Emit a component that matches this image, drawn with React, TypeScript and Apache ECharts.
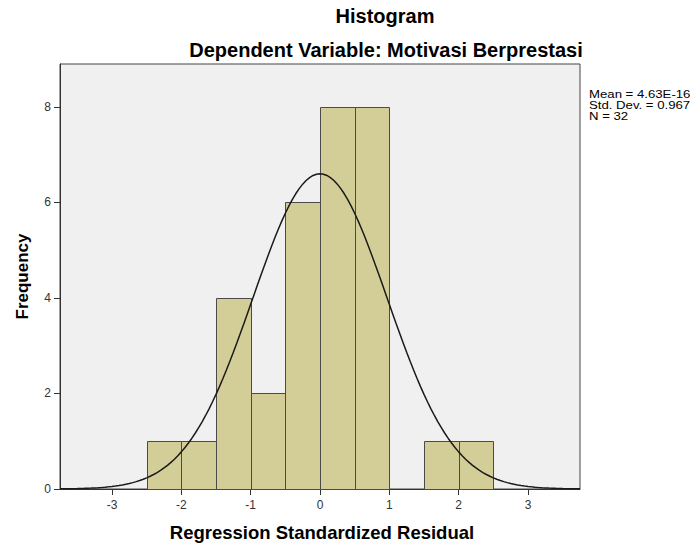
import React, { useEffect, useRef } from "react";
import * as echarts from "echarts";

// Histogram bins (left edges), bin width and frequencies
const BIN_STARTS = [-2.5, -2.0, -1.5, -1.0, -0.5, 0.0, 0.5, 1.0, 1.5, 2.0];
const BIN_WIDTH = 0.5;
const FREQUENCIES = [1, 1, 4, 2, 6, 8, 8, 0, 1, 1];

// Axis ticks
const X_TICKS = [-3, -2, -1, 0, 1, 2, 3];
const Y_TICKS = [0, 2, 4, 6, 8];

// Printed statistics (the normal curve is the one these parameters define)
const MEAN = 4.63e-16;
const STD_DEV = 0.967;
const N = 32;
const STATS_LINES = ["Mean = 4.63E-16", "Std. Dev. = 0.967", "N = 32"];

const TITLE = "Histogram";
const SUBTITLE = "Dependent Variable: Motivasi Berprestasi";
const X_NAME = "Regression Standardized Residual";
const Y_NAME = "Frequency";

const FONT = "'Liberation Sans', Arial, sans-serif";

function normalCurve(): number[][] {
  const pts: number[][] = [];
  const scale = N * BIN_WIDTH;
  for (let i = 0; i <= 150; i++) {
    const x = -3.75 + i * 0.05;
    const z = (x - MEAN) / STD_DEV;
    const y = (scale / (STD_DEV * Math.sqrt(2 * Math.PI))) * Math.exp(-0.5 * z * z);
    pts.push([x, y]);
  }
  return pts;
}

export default function App() {
  const ref = useRef<HTMLDivElement>(null);
  useEffect(() => {
    if (!ref.current) return;
    const chart = echarts.init(ref.current, null, { renderer: "svg" });
    const barData = BIN_STARTS.map((s, i) => [s, s + BIN_WIDTH, FREQUENCIES[i]]).filter(
      (d) => d[2] > 0
    );
    chart.setOption({
      animation: false,
      backgroundColor: "#ffffff",
      grid: {
        left: 60,
        top: 64,
        right: 114,
        bottom: 54,
        show: true,
        backgroundColor: "#F0F0F0",
        borderColor: "#444444",
        borderWidth: 1,
      },
      xAxis: {
        type: "value",
        min: -3.75,
        max: 3.75,
        splitLine: { show: false },
        axisLine: { show: true, onZero: false, lineStyle: { color: "#333333", width: 1 } },
        axisTick: {
          show: true,
          length: 6,
          customValues: X_TICKS,
          lineStyle: { color: "#333333" },
        },
        axisLabel: {
          customValues: X_TICKS,
          margin: 10,
          color: "#333333",
          fontSize: 12,
          fontFamily: FONT,
        },
      },
      yAxis: {
        type: "value",
        min: 0,
        max: 8.9,
        splitLine: { show: false },
        axisLine: { show: true, onZero: false, lineStyle: { color: "#333333", width: 1 } },
        axisTick: {
          show: true,
          length: 6,
          customValues: Y_TICKS,
          lineStyle: { color: "#333333" },
        },
        axisLabel: {
          customValues: Y_TICKS,
          margin: 9,
          color: "#333333",
          fontSize: 12,
          fontFamily: FONT,
        },
      },
      series: [
        {
          type: "custom",
          data: barData,
          encode: { x: [0, 1], y: 2 },
          renderItem: (params: any, api: any) => {
            const p0 = api.coord([api.value(0), 0]);
            const p1 = api.coord([api.value(1), api.value(2)]);
            return {
              type: "rect",
              shape: {
                x: Math.round(p0[0]) + 0.5,
                y: Math.round(p1[1]) + 0.5,
                width: Math.round(p1[0]) - Math.round(p0[0]),
                height: Math.round(p0[1]) - Math.round(p1[1]),
              },
              style: { fill: "#D3CE97", stroke: "#4a4a4a", lineWidth: 1 },
            };
          },
        },
        {
          type: "line",
          data: normalCurve(),
          showSymbol: false,
          symbol: "none",
          smooth: false,
          lineStyle: { color: "#1a1a1a", width: 1.5 },
          z: 5,
        },
      ],
      graphic: [
        {
          type: "text",
          x: 385,
          y: 16,
          style: {
            text: TITLE,
            font: `bold 20px ${FONT}`,
            fill: "#000000",
            textAlign: "center",
            textVerticalAlign: "middle",
          },
        },
        {
          type: "text",
          x: 386,
          y: 49.5,
          style: {
            text: SUBTITLE,
            font: `bold 20px ${FONT}`,
            fill: "#000000",
            textAlign: "center",
            textVerticalAlign: "middle",
          },
        },
        {
          type: "text",
          x: 322,
          y: 532,
          style: {
            text: X_NAME,
            font: `bold 18.5px ${FONT}`,
            fill: "#000000",
            textAlign: "center",
            textVerticalAlign: "middle",
          },
        },
        {
          type: "text",
          x: 22,
          y: 276.5,
          rotation: Math.PI / 2,
          style: {
            text: Y_NAME,
            font: `bold 17px ${FONT}`,
            fill: "#000000",
            textAlign: "center",
            textVerticalAlign: "middle",
          },
        },
        {
          type: "text",
          x: 589,
          y: 89,
          scaleX: 1.2,
          style: {
            text: STATS_LINES.join("\n"),
            font: `11px ${FONT}`,
            lineHeight: 11,
            fill: "#000000",
            textAlign: "left",
            textVerticalAlign: "top",
          },
        },
      ],
    });
    return () => chart.dispose();
  }, []);
  return (
    <div
      ref={ref}
      style={{ position: "fixed", left: 0, top: 0, width: 694, height: 543 }}
    />
  );
}
